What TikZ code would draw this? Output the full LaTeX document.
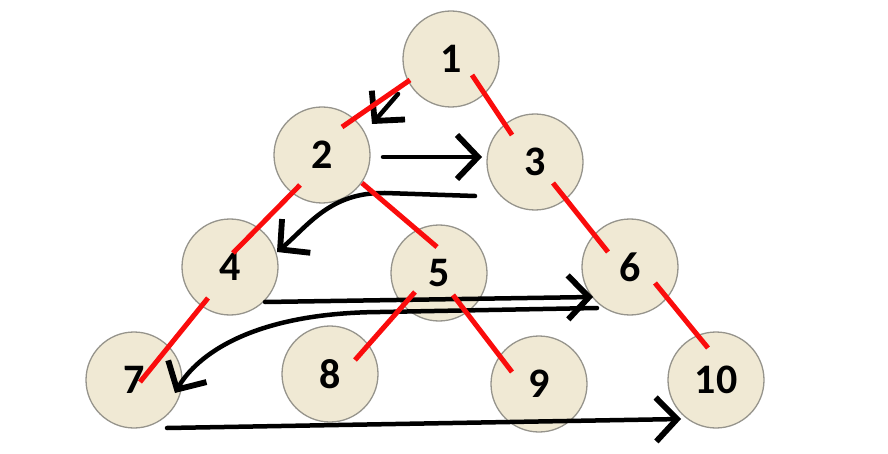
\documentclass[tikz,border=0pt]{standalone}
\usepackage{fontspec}
\setmainfont{Carlito}
\usetikzlibrary{arrows.meta,calc}
\definecolor{ballfill}{RGB}{240,233,212}
\definecolor{ballrim}{RGB}{150,148,140}
\definecolor{edgered}{RGB}{250,12,12}
\tikzset{
  ball/.style={circle, draw=ballrim, line width=1.3pt, fill=ballfill,
    minimum size=96pt, inner sep=0pt,
    font=\fontsize{42}{42}\selectfont\bfseries},
  treeedge/.style={edgered, line width=5pt},
  walk/.style={black, line width=4.5pt, line cap=round, line join=round,
    -{Straight Barb[length=21pt,width=44pt,line width=0pt 1.3]}},
}
\begin{document}
\begin{tikzpicture}[x=1pt,y=-1pt]
\useasboundingbox (0,0) rectangle (888,454);

% tree nodes
\node[ball] (n1)  at (451,59)  {1};
\node[ball] (n2)  at (322,155) {2};
\node[ball] (n3)  at (535,162) {3};
\node[ball] (n4)  at (230,267) {4};
\node[ball] (n5)  at (439,273) {5};
\node[ball] (n6)  at (630,267) {6};
\node[ball] (n7)  at (134,380) {7};
\node[ball] (n8)  at (330,374) {8};
\node[ball] (n9)  at (539,384) {9};
\node[ball] (n10) at (716,380) {10};

% level-order walk
\draw[walk] ($(n1)+(-53,35)$) -- ($(n2)+(50,-31)$);
\draw[walk] ($(n2)+(61,2)$) -- ($(n3)+(-53,-5)$);
\draw[walk] ($(n3)+(-60,34)$) -- ($(n3)+(-150,31)$)
  .. controls ($(n4)+(100,-75)$) and ($(n4)+(78,-41)$) .. ($(n4)+(47,-15)$);
\draw[walk] ($(n4)+(35,35)$) -- ($(n6)+(-37,30)$);
\draw[walk] ($(n6)+(-33,41)$) -- ($(n6)+(-250,45)$)
  .. controls ($(n7)+(106,-67)$) and ($(n7)+(58,-17)$) .. ($(n7)+(41,13)$);
\draw[walk] ($(n7)+(33,48)$) -- ($(n10)+(-35,39)$);

% tree edges
\draw[treeedge] ($(n1)+(-41,21)$) -- ($(n2)+(20,-28)$);
\draw[treeedge] ($(n1)+(21,16)$)  -- ($(n3)+(-23,-27)$);
\draw[treeedge] ($(n2)+(-22,30)$) -- ($(n4)+(3,-14)$);
\draw[treeedge] ($(n2)+(40,28)$)  -- ($(n5)+(-2,-26)$);
\draw[treeedge] ($(n3)+(18,21)$)  -- ($(n6)+(-22,-15)$);
\draw[treeedge] ($(n4)+(-22,31)$) -- ($(n7)+(6,2)$);
\draw[treeedge] ($(n5)+(-24,19)$) -- ($(n8)+(25,-14)$);
\draw[treeedge] ($(n5)+(14,22)$)  -- ($(n9)+(-27,-12)$);
\draw[treeedge] ($(n6)+(25,16)$)  -- ($(n10)+(-8,-32)$);
\end{tikzpicture}
\end{document}
